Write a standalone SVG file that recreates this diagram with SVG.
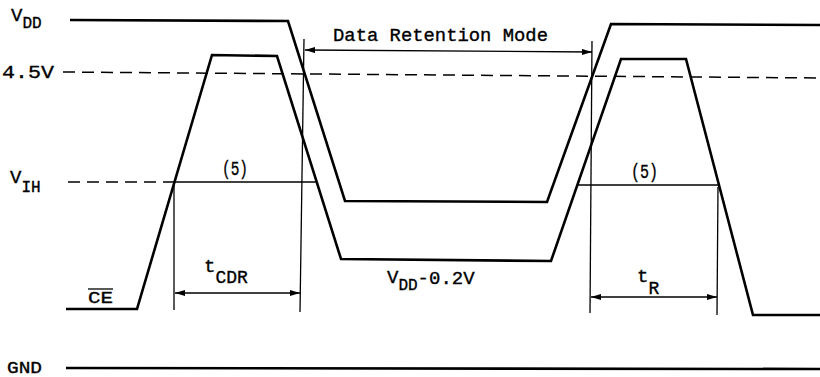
<svg xmlns="http://www.w3.org/2000/svg" width="820" height="377" viewBox="0 0 820 377">
<defs>
<style>
.wave{fill:none;stroke:#000;stroke-width:2.6;stroke-linejoin:miter}
.thin{fill:none;stroke:#000;stroke-width:1.3}
.dash{fill:none;stroke:#000;stroke-width:1.5;stroke-dasharray:12 7}
.lbl{font-family:"Liberation Mono","Courier New",monospace;fill:#000;stroke:#000;stroke-width:0.35}
</style>
<marker id="ah" viewBox="0 0 10 6" refX="10" refY="3" markerWidth="10" markerHeight="6" markerUnits="userSpaceOnUse" orient="auto-start-reverse">
<path d="M0,0 L10,3 L0,6 z" fill="#000"/>
</marker>
</defs>
<rect width="820" height="377" fill="#fff"/>
<g id="connectors">
<path class="dash" d="M63,72 L820,78"/>
<path class="dash" d="M68,182 L175,182"/>
<path class="thin" d="M175,182 L316,182"/>
<path class="thin" d="M577,185 L719,185"/>
<path class="thin" d="M174,182 L174,310"/>
<path class="thin" d="M304,39 L300,312"/>
<path class="thin" d="M592,41 L590,313"/>
<path class="thin" d="M718,187 L717,315"/>
<path class="thin" d="M305,50 L592,52" marker-start="url(#ah)" marker-end="url(#ah)"/>
<path class="thin" d="M175,293 L300,293" marker-start="url(#ah)" marker-end="url(#ah)"/>
<path class="thin" d="M591,297 L717,297" marker-start="url(#ah)" marker-end="url(#ah)"/>
</g>
<g id="vdd-wave">
<polyline class="wave" points="70,20 288,21 345,201 547,202 611,24 820,25"/>
</g>
<g id="ce-wave">
<polyline class="wave" points="66,309 137,309 212,55 277,56 341,259 551,261 621,59 686,59 753,315 820,315"/>
</g>
<g id="gnd-line">
<path class="wave" d="M66,368 L820,369"/>
</g>
<g id="labels">
<text class="lbl" x="11" y="21" font-size="19">V<tspan font-size="16" dy="7">DD</tspan></text>
<text class="lbl" x="2" y="78" font-size="19" textLength="52" lengthAdjust="spacingAndGlyphs">4.5V</text>
<text class="lbl" x="10" y="183" font-size="19">V<tspan font-size="16" dy="9">IH</tspan></text>
<text class="lbl" x="88" y="303" font-size="16" textLength="25" lengthAdjust="spacingAndGlyphs">CE</text>
<path class="thin" d="M88,289 L113,289"/>
<text class="lbl" x="7" y="373" font-size="17" textLength="35" lengthAdjust="spacingAndGlyphs">GND</text>
<text class="lbl" x="333" y="41" font-size="19" textLength="215" lengthAdjust="spacingAndGlyphs">Data Retention Mode</text>
<text class="lbl" x="222" y="175" font-size="20" textLength="26" lengthAdjust="spacingAndGlyphs">(5)</text>
<text class="lbl" x="631" y="178" font-size="20" textLength="27" lengthAdjust="spacingAndGlyphs">(5)</text>
<text class="lbl" x="204" y="272" font-size="19">t<tspan font-size="18" dy="11">CDR</tspan></text>
<text class="lbl" x="387" y="283" font-size="19">V<tspan font-size="16" dy="7">DD</tspan><tspan font-size="19" dy="-6">-0.2V</tspan></text>
<text class="lbl" x="637" y="282" font-size="19">t<tspan font-size="18" dy="12">R</tspan></text>
</g>
</svg>
